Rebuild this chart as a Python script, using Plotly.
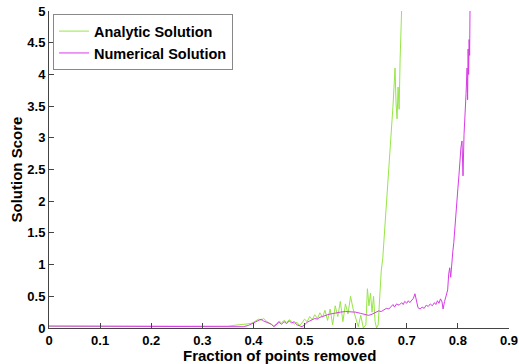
import plotly.graph_objects as go

# Analytic solution (green)
analytic_x = [0, 0.05, 0.1, 0.15, 0.2, 0.25, 0.3, 0.33, 0.35, 0.36, 0.37, 0.38, 0.39, 0.395,
              0.400, 0.405, 0.410, 0.415, 0.420, 0.425, 0.430, 0.435, 0.440, 0.445, 0.450,
              0.455, 0.460, 0.465, 0.470, 0.475, 0.480, 0.485, 0.490, 0.495, 0.500, 0.505,
              0.510, 0.515, 0.520, 0.525, 0.530, 0.535, 0.540, 0.545, 0.550, 0.555, 0.560,
              0.565, 0.570, 0.575, 0.580, 0.585, 0.590, 0.595, 0.600, 0.605, 0.610, 0.615,
              0.620, 0.623, 0.626, 0.629, 0.632, 0.635, 0.638, 0.641, 0.644, 0.647, 0.650,
              0.653, 0.656, 0.659, 0.662, 0.665, 0.668, 0.671, 0.673, 0.675, 0.677, 0.679,
              0.681, 0.683, 0.685, 0.687, 0.689, 0.691]
analytic_y = [0.03, 0.03, 0.03, 0.03, 0.03, 0.02, 0.02, 0.02, 0.03, 0.04, 0.05, 0.05, 0.06, 0.07,
              0.09, 0.12, 0.14, 0.12, 0.15, 0.11, 0.08, 0.05, 0.03, 0.07, 0.11,
              0.08, 0.12, 0.09, 0.13, 0.10, 0.06, 0.09, 0.04, 0.08, 0.14, 0.10,
              0.18, 0.13, 0.21, 0.15, 0.24, 0.17, 0.28, 0.12, 0.30, 0.05, 0.35,
              0.18, 0.42, 0.10, 0.38, 0.22, 0.50, 0.30, 0.15, 0.02, 0.20, 0.00,
              0.05, 0.62, 0.35, 0.55, 0.25, 0.50, 0.10, 0.00, 0.05, 0.45, 0.90,
              1.10, 1.45, 1.80, 2.05, 2.40, 2.75, 3.10, 3.50, 3.80, 4.10, 3.55,
              3.30, 3.80, 3.45, 4.25, 4.65, 5.30]

# Numerical solution (magenta)
numerical_x = [0, 0.1, 0.2, 0.25, 0.3, 0.35, 0.38, 0.39, 0.395,
               0.400, 0.405, 0.410, 0.415, 0.420, 0.425, 0.430, 0.435, 0.440, 0.445, 0.450,
               0.455, 0.460, 0.465, 0.470, 0.475, 0.480, 0.485, 0.490, 0.495, 0.500, 0.505,
               0.510, 0.515, 0.520, 0.525, 0.530, 0.535, 0.540, 0.545, 0.550, 0.555, 0.560,
               0.570, 0.580, 0.590, 0.600, 0.610, 0.620, 0.625, 0.630, 0.635, 0.640, 0.645,
               0.650, 0.655, 0.660, 0.665, 0.670, 0.673, 0.676, 0.680, 0.685, 0.690, 0.693,
               0.696, 0.700, 0.703, 0.706, 0.710, 0.713, 0.716, 0.719, 0.722, 0.726, 0.730,
               0.734, 0.738, 0.742, 0.746, 0.750, 0.754, 0.757, 0.760, 0.763, 0.766, 0.769,
               0.771, 0.774, 0.777, 0.780, 0.782, 0.784, 0.786, 0.788, 0.790, 0.792, 0.794,
               0.796, 0.798, 0.800, 0.802, 0.804, 0.806, 0.808, 0.810, 0.812, 0.814, 0.816,
               0.818, 0.819, 0.820, 0.821, 0.822, 0.823, 0.824]
numerical_y = [0.03, 0.03, 0.03, 0.02, 0.02, 0.02, 0.02, 0.04, 0.06,
               0.08, 0.10, 0.12, 0.14, 0.11, 0.09, 0.08, 0.06, 0.02, 0.05, 0.09,
               0.06, 0.10, 0.07, 0.11, 0.08, 0.10, 0.05, 0.03, 0.02, 0.05, 0.09,
               0.11, 0.13, 0.15, 0.14, 0.17, 0.18, 0.20, 0.21, 0.22, 0.23, 0.24,
               0.25, 0.26, 0.26, 0.25, 0.23, 0.21, 0.20, 0.21, 0.23, 0.25, 0.27,
               0.26, 0.29, 0.31, 0.30, 0.34, 0.37, 0.33, 0.38, 0.36, 0.40, 0.37,
               0.42, 0.39, 0.43, 0.40, 0.44, 0.47, 0.54, 0.45, 0.32, 0.30, 0.33,
               0.31, 0.36, 0.34, 0.38, 0.35, 0.40, 0.37, 0.43, 0.39, 0.46, 0.41,
               0.30, 0.42, 0.50, 0.60, 0.85, 0.95, 0.80, 1.10, 1.20, 1.35, 1.60,
               1.75, 2.00, 2.20, 2.40, 2.65, 2.85, 2.95, 2.40, 3.05, 3.30, 3.70,
               4.10, 3.60, 4.40, 4.00, 4.55, 4.30, 5.30]

x_ticks = [0, 0.1, 0.2, 0.3, 0.4, 0.5, 0.6, 0.7, 0.8, 0.9]
x_tick_labels = ["0", "0.1", "0.2", "0.3", "0.4", "0.5", "0.6", "0.7", "0.8", "0.9"]
y_ticks = [0, 0.5, 1, 1.5, 2, 2.5, 3, 3.5, 4, 4.5, 5]
y_tick_labels = ["0", "0.5", "1", "1.5", "2", "2.5", "3", "3.5", "4", "4.5", "5"]
x_title = "Fraction of points removed"
y_title = "Solution Score"

FONT = "Liberation Sans, Arial, Helvetica, sans-serif"

fig = go.Figure()
fig.add_trace(go.Scatter(x=analytic_x, y=analytic_y, mode="lines", name="Analytic Solution",
                         line=dict(color="rgb(150,230,70)", width=1)))
fig.add_trace(go.Scatter(x=numerical_x, y=numerical_y, mode="lines", name="Numerical Solution",
                         line=dict(color="rgb(215,60,230)", width=1)))

axis_common = dict(showgrid=False, zeroline=False, showline=True, linecolor="#444444",
                   linewidth=1, ticks="inside", ticklen=5, tickcolor="#444444",
                   automargin=False, ticklabeloverflow="allow",
                   tickfont=dict(family=FONT, size=13, color="black", weight="bold"))

fig.update_layout(
    width=519, height=364,
    margin=dict(l=49, r=10, t=11, b=36),
    paper_bgcolor="white", plot_bgcolor="white",
    xaxis=dict(range=[0, 0.9], tickvals=x_ticks, ticktext=x_tick_labels, **axis_common),
    yaxis=dict(range=[0, 5], tickvals=y_ticks, ticktext=y_tick_labels, **axis_common),
    legend=dict(x=0.0087, y=0.99, xanchor="left", yanchor="top",
                bgcolor="white", bordercolor="#888888", borderwidth=1,
                font=dict(family=FONT, size=14.5, color="black", weight="bold"),
                tracegroupgap=0, itemwidth=30),
    showlegend=True,
    annotations=[
        dict(text=x_title, xref="paper", yref="paper", x=0.5, y=-0.088,
             xanchor="center", yanchor="middle", showarrow=False,
             font=dict(family=FONT, size=15, color="black", weight="bold")),
        dict(text=y_title, xref="paper", yref="paper", x=-0.0696, y=0.5, textangle=-90,
             xanchor="center", yanchor="middle", showarrow=False,
             font=dict(family=FONT, size=15, color="black", weight="bold")),
    ],
)

fig.write_html("out.html", config={"displayModeBar": False},
               post_script="document.body.style.margin='0';document.body.style.overflow='hidden';")
